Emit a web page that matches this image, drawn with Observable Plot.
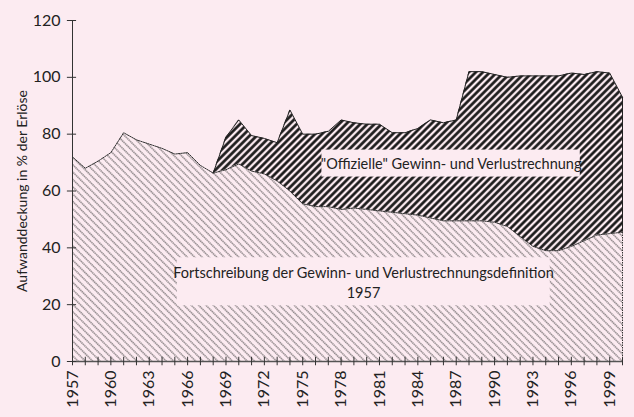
<!DOCTYPE html>
<html><head><meta charset="utf-8">
<script src="https://cdn.jsdelivr.net/npm/d3@7"></script>
<script src="https://cdn.jsdelivr.net/npm/@observablehq/plot@0.6"></script>
<style>
html,body{margin:0;padding:0;background:#fcebf1;}
</style></head><body><div id="chart"></div>
<script>
// ---- data ----
const years = [1957,1958,1959,1960,1961,1962,1963,1964,1965,1966,1967,1968,1969,1970,1971,1972,1973,1974,1975,1976,1977,1978,1979,1980,1981,1982,1983,1984,1985,1986,1987,1988,1989,1990,1991,1992,1993,1994,1995,1996,1997,1998,1999,2000];
const fortschreibung = [72,68,70.5,73.5,80.5,78,76.5,75,73,73.5,69,66.3,67.5,69.5,67,66,63.5,60,55.5,54.5,54.5,53.5,54,53.5,53,52.5,52,51.5,50.5,49.5,49.5,49.5,49.5,49,47.5,44,40.5,39,39,40.5,42.5,44.5,45,45.5];
const offiziellYears = [1968,1969,1970,1971,1972,1973,1974,1975,1976,1977,1978,1979,1980,1981,1982,1983,1984,1985,1986,1987,1988,1989,1990,1991,1992,1993,1994,1995,1996,1997,1998,1999,2000];
const offiziell = [66.3,79,85,79.5,78.5,77,88.5,80,80,81,85,84,83.5,83.5,80.5,80.5,82,85,84,85,102,102,101,100,100.5,100.5,100.5,100.5,101.5,101,102,101.5,93];
const yTicks = [0,20,40,60,80,100,120];
const xTickLabels = [1957,1960,1963,1966,1969,1972,1975,1978,1981,1984,1987,1990,1993,1996,1999];
const yTitle = "Aufwanddeckung in % der Erlöse";
const labelOffiziell = "\"Offizielle\" Gewinn- und Verlustrechnung";
const labelFort1 = "Fortschreibung der Gewinn- und Verlustrechnungsdefinition";
const labelFort2 = "1957";

// ---- tables ----
const lowerData = years.map((y, i) => ({year: y, v: fortschreibung[i]}));
const upperData = offiziellYears.map((y, i) => ({year: y, lo: fortschreibung[years.indexOf(y)], hi: offiziell[i]}));

const bg = "#fcebf1";
const ink = "#222";

const chart = Plot.plot({
  width: 634, height: 417,
  marginLeft: 72, marginRight: 12, marginTop: 20, marginBottom: 56,
  style: {background: bg, fontFamily: "Lato, 'Open Sans', sans-serif", fontSize: "16px", color: ink},
  x: {domain: [1957, 2000], axis: null},
  y: {domain: [0, 120], axis: null},
  marks: [
    Plot.areaY(lowerData, {x: "year", y: "v", fill: "url(#hatchLo)"}),
    Plot.lineY(lowerData, {x: "year", y: "v", stroke: "#333", strokeWidth: 1, strokeDasharray: "1.5,1"}),
    Plot.ruleX(lowerData.slice(-1), {x: "year", y1: 0, y2: "v", stroke: "#333", strokeDasharray: "1.5,1"}),
    Plot.areaY(upperData, {x: "year", y1: "lo", y2: "hi", fill: "url(#hatchHi)"}),
    Plot.lineY(upperData, {x: "year", y: "hi", stroke: ink, strokeWidth: 1}),
    Plot.ruleX(upperData.slice(-1), {x: "year", y1: "lo", y2: "hi", stroke: ink}),
    // label boxes
    Plot.rect([labelOffiziell], {x1: 1976.5, x2: 1996.7, y1: 64.9, y2: 74.4, fill: bg}),
    Plot.rect([labelFort1], {x1: 1965.2, x2: 1994.35, y1: 19.6, y2: 36.5, fill: bg}),
    Plot.text([labelOffiziell], {x: 1986.6, y: 69.5, fontSize: 14.5, fill: ink}),
    Plot.text([labelFort1], {x: 1979.75, y: 30.9, fontSize: 14.5, fill: ink}),
    Plot.text([labelFort2], {x: 1979.75, y: 23.9, fontSize: 14.5, fill: ink}),
    // axes lines
    Plot.ruleX([1957], {y1: 0, y2: 120, stroke: "#333", strokeWidth: 1}),
    Plot.ruleY([0], {x1: 1957, x2: 2000, stroke: "#555", strokeWidth: 1.5}),
    // crossing ticks
    Plot.ruleX(years, {y1: -1.5, y2: 1.5, stroke: "#333", strokeWidth: 1}),
    Plot.ruleY(yTicks, {x1: 1957 - 0.4, x2: 1957 + 0.32, stroke: "#333", strokeWidth: 1}),
    // tick labels
    Plot.axisY({ticks: yTicks, tickSize: 0, tickPadding: 12, label: null, fill: ink}),
    Plot.axisX({ticks: xTickLabels, tickSize: 0, tickPadding: 9, tickRotate: -90, tickFormat: d => String(d), label: null, fill: ink}),
    // y title
    Plot.text([yTitle], {frameAnchor: "left", textAnchor: "middle", rotate: -90, dx: -50, fontSize: 14, fill: ink})
  ]
});

// patterns
const svg = d3.select(chart.tagName.toLowerCase() === "svg" ? chart : chart.querySelector("svg"));
const defs = svg.insert("defs", ":first-child");
const lo = defs.append("pattern").attr("id", "hatchLo").attr("patternUnits", "userSpaceOnUse")
  .attr("width", 8).attr("height", 5.2).attr("patternTransform", "rotate(45)");
lo.append("line").attr("x1", 0).attr("x2", 8).attr("y1", 2.6).attr("y2", 2.6)
  .attr("stroke", "#333").attr("stroke-width", 1).attr("stroke-dasharray", "1.4,0.6");
const hi = defs.append("pattern").attr("id", "hatchHi").attr("patternUnits", "userSpaceOnUse")
  .attr("width", 8).attr("height", 5).attr("patternTransform", "rotate(-45)");
hi.append("line").attr("x1", 0).attr("x2", 8).attr("y1", 2.5).attr("y2", 2.5)
  .attr("stroke", "#111").attr("stroke-width", 2.6);

document.getElementById("chart").append(chart);
</script>
</body></html>
